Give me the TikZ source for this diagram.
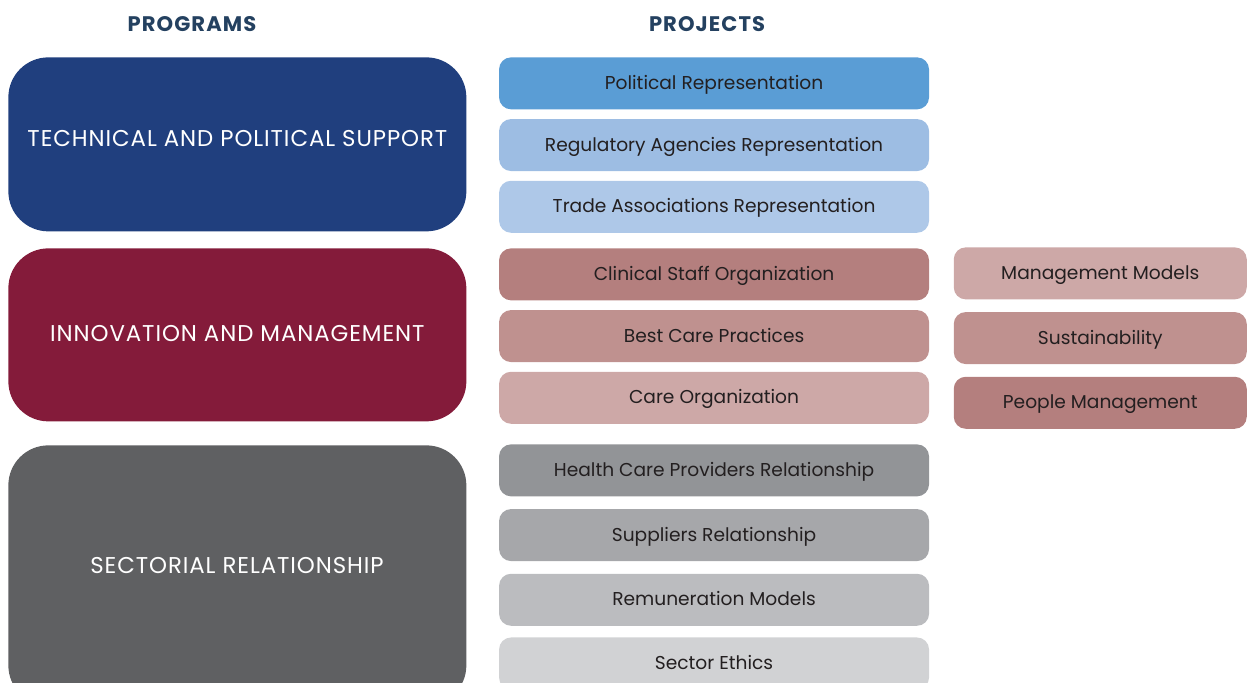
\documentclass[tikz,border=0pt]{standalone}
\usepackage{fontspec}
\setmainfont{Poppins}
\usepackage{tikz}
\usetikzlibrary{positioning}
\definecolor{tituloazul}{RGB}{36, 65, 96}
\definecolor{textoscuro}{RGB}{35, 31, 32}
\definecolor{progazul}{RGB}{32, 63, 126}
\definecolor{progvino}{RGB}{132, 27, 58}
\definecolor{proggris}{RGB}{95, 96, 98}
\definecolor{azul1}{RGB}{90, 157, 213}
\definecolor{azul2}{RGB}{157, 189, 227}
\definecolor{azul3}{RGB}{174, 200, 232}
\definecolor{rosa1}{RGB}{180, 127, 126}
\definecolor{rosa2}{RGB}{191, 145, 143}
\definecolor{rosa3}{RGB}{205, 168, 167}
\definecolor{gris1}{RGB}{146, 148, 151}
\definecolor{gris2}{RGB}{166, 167, 170}
\definecolor{gris3}{RGB}{187, 188, 191}
\definecolor{gris4}{RGB}{209, 210, 212}
\newcommand{\mayus}{\addfontfeatures{LetterSpace=4}}

\begin{document}
\begin{tikzpicture}[
    title/.style={text=tituloazul, font=\bfseries\fontsize{12}{14}\selectfont\addfontfeatures{LetterSpace=5}},
    program/.style={rectangle, rounded corners=0.8cm, minimum width=9.16cm,
                    inner sep=0pt, text=white, text height=0.75em, text depth=0.05em,
                    font=\fontsize{13}{15}\selectfont\mayus},
    project/.style={rectangle, rounded corners=0.24cm, minimum width=8.6cm,
                    minimum height=1.04cm, inner sep=0pt, text=textoscuro,
                    text height=0.75em, text depth=0.05em,
                    font=\fontsize{10.6}{12}\selectfont},
    extra/.style={project, minimum width=5.86cm}
]
\useasboundingbox (0,0) rectangle (25,-13.64);

\node (tprog) [title] at (3.84,-0.48) {PROGRAMS};
\node (tproj) [title] at (14.14,-0.48) {PROJECTS};

% programas
\node (p1) [program, fill=progazul, minimum height=3.48cm, anchor=north west,
            text depth=0.05em+0.16cm] at (0.16,-1.14)
    {TECHNICAL AND POLITICAL SUPPORT};
\node (p2) [program, fill=progvino, minimum height=3.46cm, anchor=north west] at (0.16,-4.96)
    {INNOVATION AND MANAGEMENT};
\node (p3) [program, fill=proggris, minimum height=5.2cm, anchor=north west] at (0.16,-8.9)
    {};
\node (p3t) [text=white, font=\fontsize{13}{15}\selectfont\mayus] at (4.74,-11.3) {SECTORIAL RELATIONSHIP};

% proyectos
\node (a1) [project, fill=azul1, right=0.64cm of p1.north east, anchor=north west] {Political Representation};
\node (a2) [project, fill=azul2, below=0.18cm of a1] {Regulatory Agencies Representation};
\node (a3) [project, fill=azul3, below=0.18cm of a2] {Trade Associations Representation};

\node (b1) [project, fill=rosa1, right=0.64cm of p2.north east, anchor=north west] {Clinical Staff Organization};
\node (b2) [project, fill=rosa2, below=0.18cm of b1] {Best Care Practices};
\node (b3) [project, fill=rosa3, below=0.18cm of b2] {Care Organization};

\node (c1) [project, fill=gris1, right=0.64cm of p3.north east, anchor=north west, yshift=0.02cm] {Health Care Providers Relationship};
\node (c2) [project, fill=gris2, below=0.24cm of c1] {Suppliers Relationship};
\node (c3) [project, fill=gris3, below=0.24cm of c2] {Remuneration Models};
\node (c4) [project, fill=gris4, below=0.22cm of c3] {Sector Ethics};

% columna derecha
\node (d1) [extra, fill=rosa3, right=0.48cm of b1.north east, anchor=north west, yshift=0.02cm] {Management Models};
\node (d2) [extra, fill=rosa2, below=0.24cm of d1] {Sustainability};
\node (d3) [extra, fill=rosa1, below=0.24cm of d2] {People Management};
\end{tikzpicture}
\end{document}
